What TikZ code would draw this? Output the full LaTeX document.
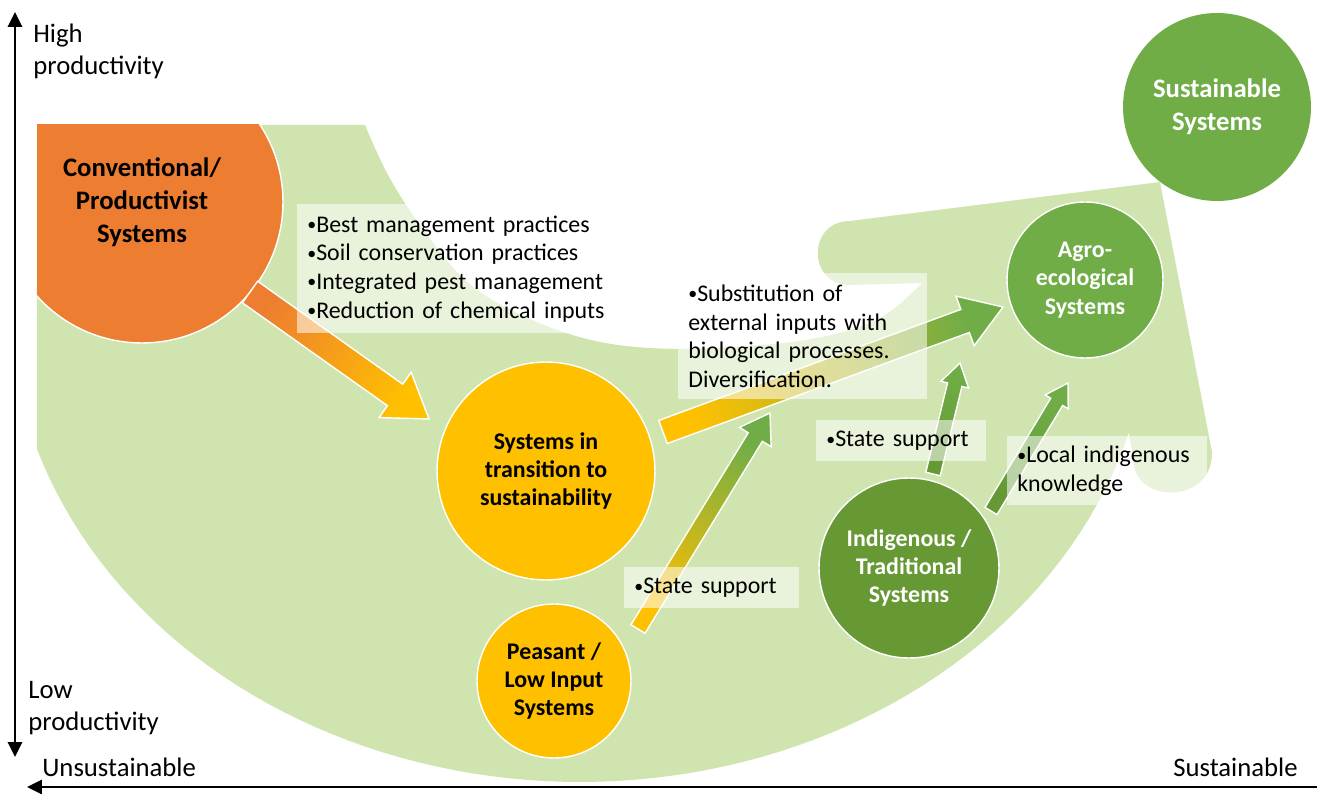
\documentclass[tikz,border=0pt]{standalone}
\usepackage{fontspec}
\setmainfont{Carlito}
\usetikzlibrary{calc,arrows.meta}
\definecolor{lgreen}{RGB}{207,228,175}
\definecolor{sorange}{RGB}{237,125,49}
\definecolor{syellow}{RGB}{255,192,0}
\definecolor{sgreen}{RGB}{112,173,71}
\definecolor{dgreen}{RGB}{102,152,52}
\newcommand{\bul}{\raisebox{0.07em}{\scalebox{0.75}{•}}}
% block arrow: back, tip, half shaft, half head, head length, colours, shading angle
\newcommand{\blockarrow}[8]{%
	\coordinate (hd) at ($(#2)!#5!(#1)$);
	\shadedraw[draw=white,line width=0.8pt,bottom color=#6,top color=#7,shading angle=#8]
		($(#1)!#3!90:(#2)$) -- ($(hd)!#3!90:(#2)$) -- ($(hd)!#4!90:(#2)$) -- (#2)
		-- ($(hd)!#4!-90:(#2)$) -- ($(hd)!#3!-90:(#2)$) -- ($(#1)!#3!-90:(#2)$) -- cycle;
}
\begin{document}
\begin{tikzpicture}[x=0.02cm,y=-0.02cm,>={Triangle[length=8.5pt,width=8pt]},
	sys/.style={circle,draw=white,line width=0.8pt,inner sep=0pt,align=center,font=\bfseries\fontsize{13.6}{16.2}\selectfont},
	bigsys/.style={sys,font=\bfseries\fontsize{15.2}{18.8}\selectfont},
	notebox/.style={fill=white,fill opacity=0.55,text opacity=1,anchor=north west,inner xsep=0.2cm,inner ysep=0pt,align=left,font=\fontsize{13.6}{16.3}\selectfont},
	axislabel/.style={inner sep=0pt,align=left,font=\fontsize{15.2}{18.1}\selectfont}]
	\useasboundingbox (0,0) rectangle (1319,794);
	% the big curved band
	\fill[lgreen] (37,125) -- (365,125)
		-- plot[smooth,tension=0.6] coordinates {(365,125) (388,175) (420,225) (465,280) (517,313) (583,338) (650,348) (733,347) (817,338) (880,318) (922,283)}
		-- (850,285) .. controls (807,285) and (807,221) .. (850,221)
		-- (1160,182) -- (1212,452) .. controls (1213,505) and (1133,505) .. (1133,458)
		-- (1129,433)
		-- plot[domain=16:162,samples=80] ({580+571*cos(\x)},{300+482*sin(\x)})
		-- cycle;
	% systems
	\begin{scope}
		\clip (37,125) rectangle (1319,794);
		\node[bigsys,fill=sorange,minimum size=5.64cm] (conv) at (142,202) {Conventional/\\Productivist\\Systems};
	\end{scope}
	\node[sys,fill=syellow,minimum size=4.36cm] (trans) at (546,471) {Systems in\\transition to\\sustainability};
	\node[sys,fill=syellow,minimum size=3.08cm] (peas) at (554,681) {Peasant /\\Low Input\\Systems};
	\node[sys,fill=dgreen,text=white,minimum size=3.6cm] (indig) at (909,568) {Indigenous /\\Traditional\\Systems};
	\node[sys,fill=sgreen,text=white,minimum size=3.12cm] (agro) at (1085,280) {Agro-\\ecological\\Systems};
	\node[bigsys,fill=sgreen,draw=none,text=white,minimum size=3.76cm] (sust) at (1217,107) {Sustainable\\Systems};
	% arrows between systems
	\coordinate (convout) at (250,292);
	\coordinate (transin) at (429,419);
	\coordinate (transout) at (663,432);
	\coordinate (agroin) at (1003,307);
	\coordinate (peasout) at (638,629);
	\coordinate (peastip) at (770,413);
	\coordinate (indigout) at (933,474);
	\coordinate (indigtip) at (960,363);
	\coordinate (knowout) at (991,511);
	\coordinate (knowtip) at (1068,383);
	\blockarrow{convout}{transin}{0.264cm}{0.556cm}{0.832cm}{sorange}{syellow}{-125.2}
	\blockarrow{transout}{agroin}{0.246cm}{0.528cm}{0.808cm}{syellow}{sgreen}{-69.7}
	\blockarrow{peasout}{peastip}{0.165cm}{0.372cm}{0.564cm}{syellow}{sgreen}{-31.4}
	\blockarrow{indigout}{indigtip}{0.148cm}{0.284cm}{0.446cm}{dgreen}{sgreen}{-13.4}
	\blockarrow{knowout}{knowtip}{0.14cm}{0.27cm}{0.44cm}{dgreen}{sgreen}{-30.9}
	% notes
	\node[notebox,text width=5.8cm,minimum height=2.58cm] (bmp) at (297,204) {\mbox{\bul Best management practices}\\\mbox{\bul Soil conservation practices}\\\mbox{\bul Integrated pest management}\\\mbox{\bul Reduction of chemical inputs}};
	\node[notebox,text width=4.58cm,minimum height=2.52cm] (subst) at (678,273) {\bul Substitution of\\\mbox{external inputs with}\\\mbox{biological processes.}\\Diversification.};
	\node[notebox,text width=3.1cm,minimum height=0.82cm] (state1) at (624,567) {\bul State support};
	\node[notebox,text width=3.0cm,minimum height=0.82cm] (state2) at (816,420) {\bul State support};
	\node[notebox,text width=3.6cm,minimum height=1.38cm] (local) at (1007,436) {\bul Local indigenous\\knowledge};
	% axes
	\coordinate (ytop) at (15,12);
	\coordinate (ybot) at (15,757);
	\coordinate (xright) at (1317,787);
	\coordinate (xleft) at (27,787);
	\draw[<->,line width=1.7pt] (ytop) -- (ybot);
	\draw[->,line width=1.7pt] (xright) -- (xleft);
	\node[axislabel,anchor=west] (high) at (33,51) {High\\productivity};
	\node[axislabel,anchor=west] (low) at (28,708) {Low\\productivity};
	\node[axislabel,anchor=west] (unsust) at (42,767) {Unsustainable};
	\node[axislabel,anchor=east] (sustlab) at (1298,767) {Sustainable};
\end{tikzpicture}
\end{document}
